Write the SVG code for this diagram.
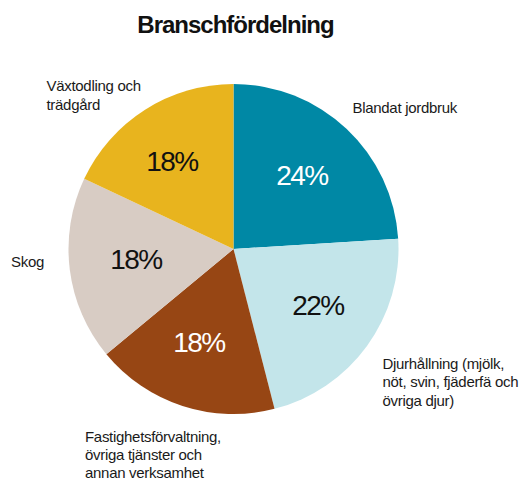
<svg xmlns="http://www.w3.org/2000/svg" width="526" height="482" viewBox="0 0 526 482">
<style>
.title{font-family:"Liberation Sans",Arial,sans-serif;font-weight:bold;font-size:24px;letter-spacing:-1px;fill:#111}
.lbl{font-family:"Liberation Sans",Arial,sans-serif;font-size:15px;letter-spacing:-0.3px;fill:#1a1a1a}
.pct{font-family:"Liberation Sans",Arial,sans-serif;font-size:28px;letter-spacing:-1.5px;text-anchor:middle}
</style>
<rect width="526" height="482" fill="#ffffff"/>
<text class="title" x="235.5" y="33" text-anchor="middle">Branschfördelning</text>
<g id="blandat">
<path d="M233.5,249 L233.5,84 A165,165 0 0 1 398.17,238.64 Z" fill="#0088A5"/>
<text class="pct" x="302" y="185" fill="#ffffff">24%</text>
<text class="lbl" x="352.5" y="113">Blandat jordbruk</text>
</g>
<g id="djurhallning">
<path d="M233.5,249 L398.17,238.64 A165,165 0 0 1 274.53,408.82 Z" fill="#C3E5EA"/>
<text class="pct" x="318" y="315" fill="#111111">22%</text>
<text class="lbl" x="382.5"><tspan x="382.5" y="368.5">Djurhållning (mjölk,</tspan><tspan x="382.5" y="387">nöt, svin, fjäderfä och</tspan><tspan x="382.5" y="405.5">övriga djur)</tspan></text>
</g>
<g id="fastighet">
<path d="M233.5,249 L274.53,408.82 A165,165 0 0 1 106.37,354.17 Z" fill="#974614"/>
<text class="pct" x="199" y="352" fill="#ffffff">18%</text>
<text class="lbl" x="85"><tspan x="85" y="442">Fastighetsförvaltning,</tspan><tspan x="85" y="460">övriga tjänster och</tspan><tspan x="85" y="478">annan verksamhet</tspan></text>
</g>
<g id="skog">
<path d="M233.5,249 L106.37,354.17 A165,165 0 0 1 84.20,178.75 Z" fill="#D8CCC4"/>
<text class="pct" x="136" y="269" fill="#111111">18%</text>
<text class="lbl" x="11" y="267">Skog</text>
</g>
<g id="vaxtodling">
<path d="M233.5,249 L84.20,178.75 A165,165 0 0 1 233.5,84 Z" fill="#E8B41E"/>
<text class="pct" x="172" y="171" fill="#111111">18%</text>
<text class="lbl"><tspan x="46.5" y="91">Växtodling och</tspan><tspan x="46.5" y="110">trädgård</tspan></text>
</g>
<g id="connectors"/>
</svg>
